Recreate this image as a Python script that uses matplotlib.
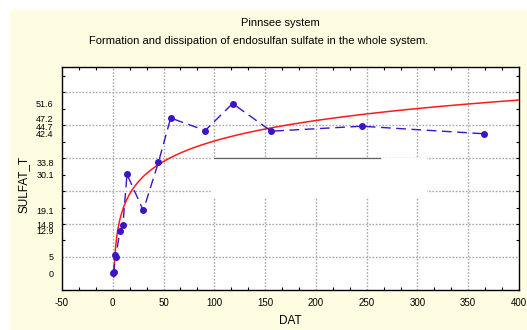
import numpy as np
import matplotlib
matplotlib.use('Agg')
import matplotlib.pyplot as plt
from matplotlib.patches import Rectangle
from matplotlib.ticker import MultipleLocator

plt.rcParams['font.family'] = ['Liberation Sans', 'DejaVu Sans']

# measured data (days after treatment vs total endosulfan sulfate)
dat = [0, 1, 2, 3, 7, 10, 14, 30, 45, 57, 91, 118, 156, 245, 366]
sulfat_t = [0, 0.3, 5.6, 5, 12.9, 14.8, 30.1, 19.1, 33.8, 47.2, 43.4, 51.6, 43.2, 44.7, 42.4]

# custom y tick labels shown on the axis
y_labels = [0, 5, 12.9, 14.8, 19.1, 30.1, 33.8, 42.4, 44.7, 47.2, 51.6]
x_ticks = [-50, 0, 50, 100, 150, 200, 250, 300, 350, 400]

title1 = 'Pinnsee system'
title2 = 'Formation and dissipation of endosulfan sulfate in the whole system.'

fig = plt.figure(figsize=(5.27, 3.30), dpi=100, facecolor='white')
fig.patches.append(Rectangle((10 / 527, 0), 517 / 527, 320 / 330, transform=fig.transFigure,
                             facecolor='#fffde1', edgecolor='none', zorder=-10))

ax = fig.add_axes([62 / 527, 40 / 330, 457 / 527, 223 / 330])
ax.set_facecolor('white')
ax.set_xlim(-50, 400)
ax.set_ylim(-5.07, 62.7)

# dotted grid
for gx in x_ticks[1:-1]:
    ax.axvline(gx, color='#a8a8a8', lw=1.0, ls=(0, (1.2, 1.2)), zorder=1)
for gy in np.arange(5, 60, 10):
    ax.axhline(gy, color='#a8a8a8', lw=1.0, ls=(0, (1.2, 1.2)), zorder=1)

# blank box sitting over part of the grid
ax.add_patch(Rectangle((97, 23.2), 212, 11.8, facecolor='white', edgecolor='none', zorder=2))
ax.plot([100, 263], [35, 35], color='#606060', lw=0.9, zorder=3)

# log fit of the data (x > 0)
x = np.array(dat, dtype=float)
y = np.array(sulfat_t, dtype=float)
m = x > 0
b, a = np.polyfit(np.log(x[m]), y[m], 1)
xf = np.linspace(1, 400, 400)
ax.plot(xf, a + b * np.log(xf), color='#ff1a1a', lw=1.1, zorder=4)

ax.plot(dat, sulfat_t, color='#3c14c8', lw=1.0, ls=(0, (7, 4)), marker='o',
        markersize=4, markerfacecolor='#3c14c8', markeredgecolor='#3c14c8', zorder=5)

for s in ax.spines.values():
    s.set_linewidth(1.0)
    s.set_color('black')

ax.set_xticks(x_ticks)
ax.set_xticklabels([str(t) for t in x_ticks], fontsize=7)
ax.xaxis.set_minor_locator(MultipleLocator(50 / 3))
ax.set_yticks(y_labels)
ax.set_yticklabels(['%g' % t for t in y_labels], fontsize=6.5)
ax.yaxis.set_minor_locator(MultipleLocator(5))
ax.tick_params(axis='both', which='major', length=0, pad=6)
ax.tick_params(axis='both', which='minor', direction='in', length=2.5, width=0.8,
               top=True, right=True)

ax.set_xlabel('DAT', fontsize=8.5, labelpad=5)
fig.text(23.5 / 527, 1 - 184 / 330, 'SULFAT_T', rotation=90, fontsize=8.5, ha='center', va='center')

fig.text(280 / 527, 1 - 22.5 / 330, title1, fontsize=8, ha='center', va='center')
fig.text(259 / 527, 1 - 41.5 / 330, title2, fontsize=8, ha='center', va='center')

fig.savefig('out.png', dpi=100, facecolor='white')
